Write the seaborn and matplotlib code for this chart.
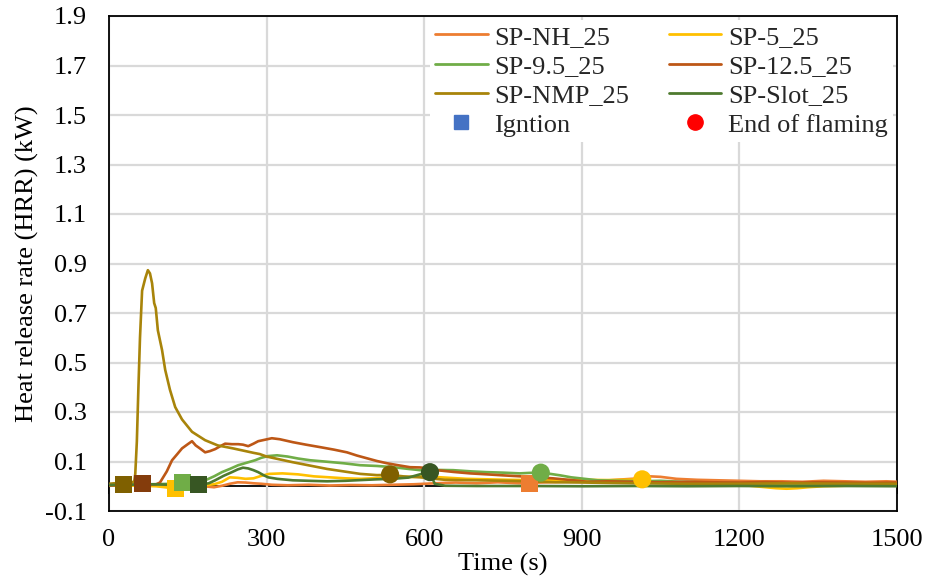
import numpy as np
import pandas as pd
import matplotlib
matplotlib.use("Agg")
import matplotlib.pyplot as plt
import seaborn as sns
from matplotlib.lines import Line2D

# ---------------- data ----------------
names = ["SP-NH_25", "SP-5_25", "SP-9.5_25", "SP-12.5_25", "SP-NMP_25", "SP-Slot_25"]

nh_t = [0, 30, 60, 90, 120, 150, 180, 200, 215, 230, 245, 260, 275, 290, 310, 340, 380, 420, 460, 500,
        540, 580, 620, 660, 700, 740, 780, 820, 860, 900, 940, 980, 1010, 1030, 1050, 1080, 1120, 1160,
        1200, 1240, 1280, 1320, 1360, 1400, 1440, 1480, 1500]
nh_hrr = [0.002, 0.004, 0.003, 0.002, 0.0, 0.001, 0.0, -0.004, 0.002, 0.010, 0.016, 0.015, 0.012, 0.010,
          0.006, 0.004, 0.006, 0.003, 0.005, 0.004, 0.006, 0.008, 0.012, 0.015, 0.012, 0.016, 0.012, 0.015,
          0.018, 0.020, 0.022, 0.028, 0.032, 0.040, 0.038, 0.030, 0.026, 0.024, 0.022, 0.020, 0.020, 0.018,
          0.022, 0.020, 0.018, 0.020, 0.018]

sp5_t = [0, 30, 60, 90, 110, 127, 140, 160, 180, 200, 215, 230, 245, 260, 275, 290, 305, 330, 360, 390,
         420, 450, 480, 520, 560, 600, 640, 680, 720, 760, 800, 850, 900, 950, 1000, 1015, 1040, 1080, 1120,
         1160, 1200, 1240, 1270, 1290, 1310, 1330, 1360, 1400, 1450, 1500]
sp5_hrr = [0.004, 0.003, 0.002, 0.0, -0.005, -0.010, -0.006, 0.0, 0.004, 0.008, 0.018, 0.036, 0.034, 0.030,
           0.032, 0.042, 0.050, 0.052, 0.048, 0.040, 0.036, 0.032, 0.030, 0.034, 0.036, 0.040, 0.035, 0.030,
           0.028, 0.026, 0.025, 0.024, 0.026, 0.025, 0.027, 0.028, 0.015, 0.012, 0.010, 0.008, 0.006, -0.002,
           -0.008, -0.010, -0.008, -0.004, 0.0, 0.002, 0.004, 0.003]

sp95_t = [0, 40, 80, 120, 140, 160, 183, 200, 215, 230, 246, 262, 278, 290, 303, 320, 340, 360, 383, 410,
          446, 478, 510, 541, 570, 592, 620, 655, 690, 719, 750, 782, 800, 822, 840, 859, 880, 897, 930, 970,
          1010, 1050, 1090, 1130, 1170, 1210, 1250, 1300, 1350, 1400, 1450, 1500]
sp95_hrr = [0.005, 0.006, 0.008, 0.010, 0.015, 0.012, 0.024, 0.040, 0.057, 0.070, 0.085, 0.095, 0.105, 0.115,
            0.122, 0.125, 0.120, 0.112, 0.105, 0.100, 0.093, 0.085, 0.082, 0.077, 0.070, 0.065, 0.066, 0.065,
            0.060, 0.057, 0.055, 0.052, 0.054, 0.055, 0.050, 0.044, 0.036, 0.032, 0.024, 0.022, 0.020, 0.022,
            0.018, 0.016, 0.014, 0.012, 0.010, 0.008, 0.006, 0.005, 0.004, 0.004]

sp125_t = [0, 30, 60, 80, 90, 97, 110, 120, 130, 139, 150, 158, 165, 173, 183, 192, 202, 212, 221, 234, 246,
           255, 265, 275, 284, 297, 310, 325, 350, 375, 402, 428, 453, 472, 491, 510, 529, 550, 573, 592, 605,
           624, 655, 687, 720, 750, 800, 845, 880, 910, 950, 1000, 1050, 1100, 1150, 1200, 1250, 1300, 1350,
           1400, 1450, 1500]
sp125_hrr = [0.003, 0.005, 0.008, 0.006, 0.008, 0.015, 0.060, 0.105, 0.130, 0.153, 0.170, 0.182, 0.165, 0.153,
             0.137, 0.142, 0.150, 0.162, 0.172, 0.170, 0.170, 0.168, 0.162, 0.172, 0.182, 0.188, 0.194, 0.190,
             0.178, 0.168, 0.158, 0.148, 0.137, 0.124, 0.113, 0.102, 0.093, 0.085, 0.077, 0.076, 0.073, 0.065,
             0.058, 0.052, 0.048, 0.044, 0.038, 0.032, 0.025, 0.018, 0.020, 0.018, 0.016, 0.018, 0.016, 0.015,
             0.017, 0.014, 0.016, 0.015, 0.014, 0.015]

nmp_t = [0, 10, 20, 30, 40, 48, 50, 53, 56, 59, 63, 69, 74, 78, 82, 86, 89, 93, 101, 107, 116, 126, 139, 158,
         183, 207, 236, 275, 287, 300, 350, 415, 478, 510, 535, 560, 592, 640, 700, 760, 800, 850, 900, 1000,
         1100, 1200, 1300, 1400, 1500]
nmp_hrr = [0.010, 0.012, 0.008, 0.010, 0.012, 0.020, 0.050, 0.180, 0.400, 0.600, 0.790, 0.840, 0.873, 0.860,
           0.820, 0.740, 0.720, 0.630, 0.550, 0.470, 0.390, 0.320, 0.270, 0.220, 0.186, 0.165, 0.153, 0.135,
           0.130, 0.120, 0.097, 0.070, 0.050, 0.045, 0.046, 0.040, 0.036, 0.026, 0.024, 0.022, 0.020, 0.016,
           0.015, 0.012, 0.010, 0.010, 0.012, 0.010, 0.010]

slot_t = [0, 40, 80, 120, 150, 171, 190, 202, 218, 234, 245, 255, 265, 275, 284, 294, 303, 320, 350, 380, 415,
          450, 480, 510, 540, 570, 595, 611, 620, 640, 700, 800, 900, 1000, 1100, 1200, 1300, 1400, 1500]
slot_hrr = [0.005, 0.006, 0.008, 0.006, 0.005, 0.006, 0.012, 0.024, 0.042, 0.057, 0.068, 0.075, 0.072, 0.065,
            0.057, 0.045, 0.036, 0.030, 0.024, 0.022, 0.020, 0.022, 0.025, 0.028, 0.030, 0.035, 0.050, 0.057,
            0.010, 0.002, 0.001, 0.001, 0.0, 0.001, 0.0, 0.001, 0.0, 0.001, 0.0]

# ignition (squares) and end of flaming (circles)
ign_series = ["SP-NMP_25", "SP-12.5_25", "SP-5_25", "SP-9.5_25", "SP-Slot_25", "SP-NH_25"]
ign_t = [27, 64, 127, 140, 171, 800]
ign_hrr = [0.008, 0.010, -0.008, 0.015, 0.006, 0.010]

end_series = ["SP-NMP_25", "SP-Slot_25", "SP-9.5_25", "SP-5_25"]
end_t = [535, 611, 822, 1015]
end_hrr = [0.048, 0.057, 0.055, 0.028]

xticks = [0, 300, 600, 900, 1200, 1500]
yticks = [-0.1, 0.1, 0.3, 0.5, 0.7, 0.9, 1.1, 1.3, 1.5, 1.7, 1.9]
ytick_labels = ["-0.1", "0.1", "0.3", "0.5", "0.7", "0.9", "1.1", "1.3", "1.5", "1.7", "1.9"]

# ---------------- styles ----------------
line_colors = {"SP-NH_25": "#ED7D31", "SP-5_25": "#FFC000", "SP-9.5_25": "#70AD47",
               "SP-12.5_25": "#BD5716", "SP-NMP_25": "#A8840A", "SP-Slot_25": "#4E7A2F"}
marker_colors = {"SP-NH_25": "#ED7D31", "SP-5_25": "#FFC000", "SP-9.5_25": "#70AD47",
                 "SP-12.5_25": "#843C0C", "SP-NMP_25": "#7F6000", "SP-Slot_25": "#375623"}

FS = 19

sns.set_theme(style="white")
plt.rcParams["font.family"] = ["Liberation Serif", "DejaVu Serif"]

frames = []
for nm, t, h in zip(names, [nh_t, sp5_t, sp95_t, sp125_t, nmp_t, slot_t],
                    [nh_hrr, sp5_hrr, sp95_hrr, sp125_hrr, nmp_hrr, slot_hrr]):
    frames.append(pd.DataFrame({"Time": t, "HRR": h, "Series": nm}))
df = pd.concat(frames, ignore_index=True)

ign_df = pd.DataFrame({"Time": ign_t, "HRR": ign_hrr, "Series": ign_series})
end_df = pd.DataFrame({"Time": end_t, "HRR": end_hrr, "Series": end_series})

fig = plt.figure(figsize=(9.3, 5.77), dpi=100)
ax = fig.add_axes([109 / 930, 1 - 511 / 577, (897 - 109) / 930, (511 - 16) / 577])

ax.set_xlim(0, 1500)
ax.set_ylim(-0.1, 1.9)
ax.set_xticks(xticks)
ax.set_yticks(yticks)
ax.set_yticklabels(ytick_labels)
ax.grid(True, color="#D9D9D9", lw=1.6)
ax.set_axisbelow(True)

# y = 0 axis line with tick marks
sec = ax.secondary_xaxis(0.05)
sec.set_xticks(xticks)
sec.tick_params(direction="out", length=6, width=1.3, color="black", labelbottom=False, labeltop=False)
for sp in sec.spines.values():
    sp.set_color("black")
    sp.set_linewidth(1.3)

sns.lineplot(data=df, x="Time", y="HRR", hue="Series", hue_order=names, palette=line_colors,
             estimator=None, sort=False, legend=False, lw=1.9, ax=ax, zorder=3)
sns.scatterplot(data=ign_df, x="Time", y="HRR", hue="Series", palette=marker_colors, marker="s",
                s=150, linewidth=0, legend=False, ax=ax, zorder=4)
sns.scatterplot(data=end_df, x="Time", y="HRR", hue="Series", palette=marker_colors, marker="o",
                s=170, linewidth=0, legend=False, ax=ax, zorder=4)

for sp in ax.spines.values():
    sp.set_visible(True)
    sp.set_color("black")
    sp.set_linewidth(1.3)

ax.tick_params(axis="both", length=0, labelsize=FS, colors="black")
ax.tick_params(axis="x", pad=13)
ax.tick_params(axis="y", pad=16)
ax.set_xlabel("Time (s)", fontsize=FS, labelpad=1, color="black")
ax.set_ylabel("Heat release rate (HRR) (kW)", fontsize=FS, labelpad=4, color="black")

# legend (column-wise order)
def lh(nm):
    return Line2D([0], [0], color=line_colors[nm], lw=2)

handles = [lh("SP-NH_25"), lh("SP-9.5_25"), lh("SP-NMP_25"),
           Line2D([0], [0], ls="none", marker="s", color="#4472C4", markersize=10),
           lh("SP-5_25"), lh("SP-12.5_25"), lh("SP-Slot_25"),
           Line2D([0], [0], ls="none", marker="o", color="#FF0000", markersize=11)]
labels = ["SP-NH_25", "SP-9.5_25", "SP-NMP_25", "Igntion",
          "SP-5_25", "SP-12.5_25", "SP-Slot_25", "End of flaming"]
leg = ax.legend(handles, labels, ncol=2, loc="upper right", bbox_to_anchor=(1.0, 1.0),
                fontsize=FS, frameon=True, fancybox=False, edgecolor="none", facecolor="white",
                framealpha=1, handlelength=2.0, handletextpad=0.25, columnspacing=1.5,
                labelspacing=0.22, borderpad=0.2, borderaxespad=0.15)

fig.savefig("out.png", dpi=100)
